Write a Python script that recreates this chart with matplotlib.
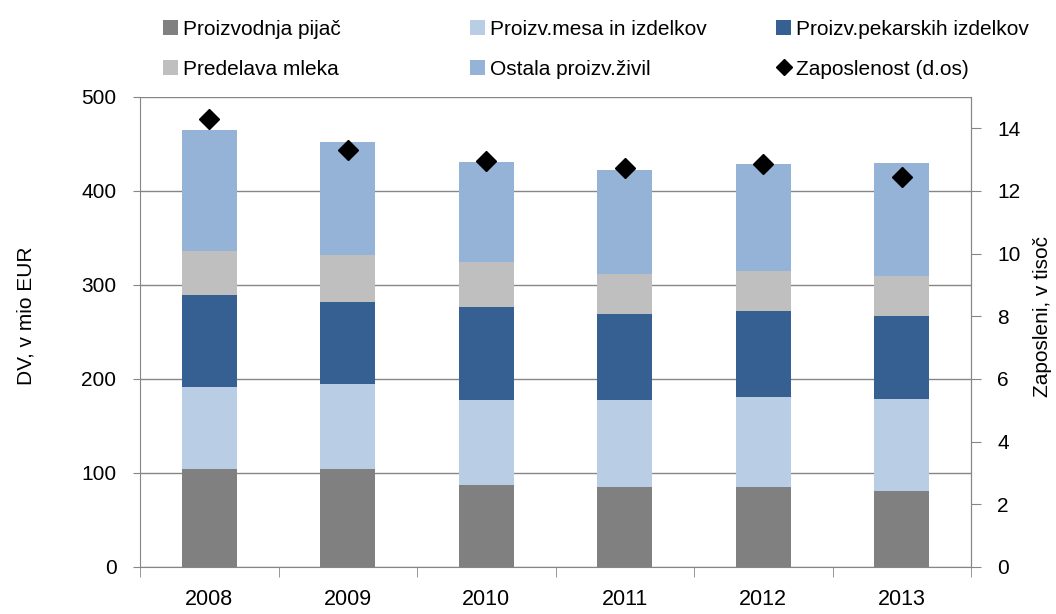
import matplotlib.pyplot as plt
import numpy as np

# podatki
leta = ["2008", "2009", "2010", "2011", "2012", "2013"]
pijac = [104, 104, 87, 85, 85, 81]
mesa = [88, 91, 91, 93, 96, 98]
pekarski = [97, 87, 99, 91, 91, 88]
mleko = [47, 50, 48, 43, 43, 43]
ostala = [129, 120, 106, 110, 114, 120]
zaposlenost = [14.3, 13.3, 12.95, 12.75, 12.85, 12.45]

serije = [
    ("Proizvodnja pijač", pijac, "#808080"),
    ("Proizv.mesa in izdelkov", mesa, "#B9CDE5"),
    ("Proizv.pekarskih izdelkov", pekarski, "#376092"),
    ("Predelava mleka", mleko, "#BFBFBF"),
    ("Ostala proizv.živil", ostala, "#95B3D7"),
]

plt.rcParams['font.family'] = ['Liberation Sans', 'DejaVu Sans']
os_col = "#868686"

fig = plt.figure(figsize=(10.56, 6.14), dpi=100)
ax = fig.add_axes([140 / 1056, 1 - 567 / 614, (971 - 140) / 1056, (567 - 97) / 614])
x = np.arange(len(leta))

spodaj = np.zeros(len(leta))
rocaji = {}
for ime, vals, barva in serije:
    b = ax.bar(x, vals, 0.4, bottom=spodaj, color=barva, zorder=2, label=ime)
    rocaji[ime] = b
    spodaj += np.array(vals)

ax.set_xlim(-0.5, len(leta) - 0.5)
ax.set_ylim(0, 500)
ax.set_yticks(np.arange(0, 501, 100))
ax.yaxis.grid(True, color=os_col, lw=1)
ax.set_axisbelow(True)
ax.set_xticks(x)
ax.set_xticklabels(leta, fontsize=15.5)
ax.set_xticks(np.arange(-0.5, len(leta), 1), minor=True)
ax.tick_params(axis='x', which='major', length=0, pad=16)
ax.tick_params(axis='x', which='minor', length=7, color=os_col)
ax.tick_params(axis='y', labelsize=15, length=5, color=os_col, pad=12)
ax.spines["top"].set_visible(False)
for s in ["left", "bottom", "right"]:
    ax.spines[s].set_color(os_col)
ax.set_ylabel("DV, v mio EUR", fontsize=15)
ax.yaxis.set_label_coords(-0.126, 0.534)

ax2 = ax.twinx()
ax2.set_ylim(0, 15)
ax2.set_yticks(np.arange(0, 15, 2))
ax2.tick_params(axis='y', labelsize=15, length=7, color=os_col, pad=12)
for s in ["top", "left", "bottom"]:
    ax2.spines[s].set_visible(False)
ax2.spines["right"].set_color(os_col)
tocke, = ax2.plot(x, zaposlenost, linestyle="none", marker="D", color="black",
                  markersize=10, label="Zaposlenost (d.os)")
ax2.set_ylabel("Zaposleni, v tisoč", fontsize=15)
ax2.yaxis.set_label_coords(1.0746, 0.534)

# legenda - tri stolpci na fiksnih mestih
stolpci = [
    (163, ["Proizvodnja pijač", "Predelava mleka"]),
    (470, ["Proizv.mesa in izdelkov", "Ostala proizv.živil"]),
    (776, ["Proizv.pekarskih izdelkov", "Zaposlenost (d.os)"]),
]
rocaji["Zaposlenost (d.os)"] = tocke
for xpos, imena in stolpci:
    leg = fig.legend([rocaji[i] for i in imena], imena, loc="upper left",
                     bbox_to_anchor=(xpos / 1056, 1 - 20 / 614), frameon=False,
                     fontsize=15, handlelength=0.72, handleheight=0.72,
                     handletextpad=0.25, labelspacing=1.0, borderpad=0,
                     borderaxespad=0, markerscale=0.8)

fig.savefig("out.png", dpi=100)
